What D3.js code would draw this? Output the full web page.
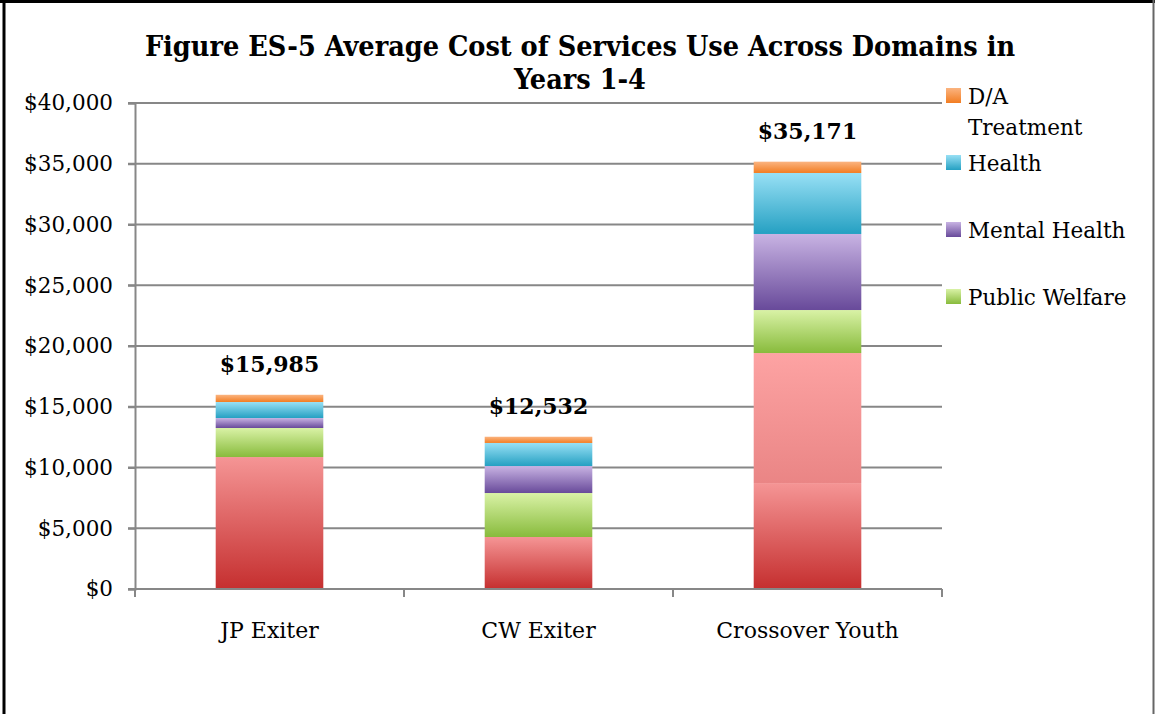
<!DOCTYPE html>
<html>
<head>
<meta charset="utf-8">
<script src="https://cdn.jsdelivr.net/npm/d3@7"></script>
<style>
  html, body { margin: 0; padding: 0; background: #fff; }
  svg { display: block; }
  text { font-family: "DejaVu Serif", serif; fill: #000; }
</style>
</head>
<body>
<svg id="chart" width="1155" height="714"></svg>
<script>
// ---- data ----
const categories = ["JP Exiter", "CW Exiter", "Crossover Youth"];
const seriesNames = ["Justice A", "Justice B", "Public Welfare", "Mental Health", "Health", "D/A Treatment"];
const justiceA = [10860, 4280, 8720];
const justiceB = [0, 0, 10700];
const publicWelfare = [2390, 3620, 3540];
const mentalHealth = [820, 2220, 6260];
const health = [1320, 1900, 5020];
const daTreatment = [595, 512, 931];
const totals = [15985, 12532, 35171];
const yTicks = [0, 5000, 10000, 15000, 20000, 25000, 30000, 35000, 40000];
const legendItems = ["D/A Treatment", "Health", "Mental Health", "Public Welfare"];
const titleLines = ["Figure ES-5 Average Cost of Services Use Across Domains in", "Years 1-4"];

(function () {
const seriesValues = [justiceA, justiceB, publicWelfare, mentalHealth, health, daTreatment];
const gradients = {
  "Justice A": ["#f59595", "#c52f2f"],
  "Justice B": ["#fda3a3", "#ea8585"],
  "Public Welfare": ["#d9f2a6", "#88bb3c"],
  "Mental Health": ["#c8b3e3", "#684a9a"],
  "Health": ["#98e0f5", "#25a0c2"],
  "D/A Treatment": ["#fbb480", "#f27d22"]
};

const svg = d3.select("#chart");
const W = 1155, H = 714;

// frame
svg.append("rect").attr("x", 0).attr("y", 0).attr("width", W).attr("height", H).attr("fill", "#fff");
svg.append("line").attr("x1", 0).attr("x2", W).attr("y1", 1.5).attr("y2", 1.5).attr("stroke", "#000").attr("stroke-width", 3);
svg.append("line").attr("x1", 4).attr("x2", 4).attr("y1", 0).attr("y2", H).attr("stroke", "#000").attr("stroke-width", 3);
svg.append("line").attr("x1", 1153.5).attr("x2", 1153.5).attr("y1", 0).attr("y2", H).attr("stroke", "#666").attr("stroke-width", 2);

const defs = svg.append("defs");
Object.entries(gradients).forEach(([name, [c1, c2]], i) => {
  const g = defs.append("linearGradient").attr("id", "grad" + i)
    .attr("x1", 0).attr("y1", 0).attr("x2", 0).attr("y2", 1);
  g.append("stop").attr("offset", "0%").attr("stop-color", c1);
  g.append("stop").attr("offset", "100%").attr("stop-color", c2);
});
const gradId = name => "url(#grad" + Object.keys(gradients).indexOf(name) + ")";

const pLeft = 135, pRight = 942, pTop = 103, pBottom = 589;
const x = d3.scaleBand().domain(categories).range([pLeft, pRight]).paddingInner(0.6).paddingOuter(0.3);
const y = d3.scaleLinear().domain([0, 40000]).range([pBottom, pTop]);

// gridlines
svg.append("g").selectAll("line").data(yTicks.filter(d => d > 0)).join("line")
  .attr("x1", pLeft - 7).attr("x2", pRight)
  .attr("y1", d => y(d)).attr("y2", d => y(d))
  .attr("stroke", "#878787").attr("stroke-width", 2);

// y axis
const yAxis = d3.axisLeft(y).tickValues(yTicks).tickSize(7).tickPadding(15)
  .tickFormat(d => "$" + d3.format(",")(d));
const gy = svg.append("g").attr("transform", `translate(${pLeft},0)`).call(yAxis);
gy.select(".domain").attr("stroke", "#878787").attr("stroke-width", 2);
gy.selectAll(".tick line").attr("stroke", "#878787").attr("stroke-width", 2);
gy.selectAll(".tick text").attr("font-size", 21.5).attr("font-family", "DejaVu Serif").attr("fill", "#000");

// stacked data
const table = categories.map((c, i) => {
  const o = { category: c };
  seriesNames.forEach((s, j) => o[s] = seriesValues[j][i]);
  return o;
});
const stack = d3.stack().keys(seriesNames)(table);

svg.append("g").selectAll("g").data(stack).join("g")
  .attr("fill", d => gradId(d.key))
  .selectAll("rect").data(d => d.filter(p => p[1] - p[0] > 0)).join("rect")
  .attr("x", d => x(d.data.category))
  .attr("width", x.bandwidth())
  .attr("y", d => y(d[1]))
  .attr("height", d => y(d[0]) - y(d[1]));

// x axis
const xBounds = d3.scaleLinear().domain([0, categories.length]).range([pLeft, pRight]);
const gx = svg.append("g");
gx.append("line").attr("x1", pLeft - 7).attr("x2", pRight).attr("y1", pBottom).attr("y2", pBottom)
  .attr("stroke", "#878787").attr("stroke-width", 2);
gx.selectAll("line.t").data(d3.range(categories.length + 1)).join("line").attr("class", "t")
  .attr("x1", d => xBounds(d)).attr("x2", d => xBounds(d))
  .attr("y1", pBottom).attr("y2", pBottom + 8)
  .attr("stroke", "#878787").attr("stroke-width", 2);
gx.selectAll("text").data(categories).join("text")
  .attr("x", d => x(d) + x.bandwidth() / 2).attr("y", 638)
  .attr("text-anchor", "middle").attr("font-size", 22).text(d => d);

// totals labels
svg.append("g").selectAll("text").data(categories).join("text")
  .attr("x", d => x(d) + x.bandwidth() / 2)
  .attr("y", (d, i) => y(totals[i]) - 23)
  .attr("text-anchor", "middle").attr("font-weight", "bold").attr("font-size", 22)
  .text((d, i) => "$" + d3.format(",")(totals[i]));

// title
svg.append("g").selectAll("text").data(titleLines).join("text")
  .attr("x", 580).attr("y", (d, i) => 56 + i * 33)
  .attr("text-anchor", "middle").attr("font-weight", "bold").attr("font-size", 28.5)
  .style("font-stretch", "condensed")
  .text(d => d);

// legend
const legendY = d3.scalePoint().domain(legendItems).range([95.5, 296.5]);
const lg = svg.append("g").selectAll("g").data(legendItems).join("g")
  .attr("transform", d => `translate(946,${legendY(d)})`);
lg.append("rect").attr("x", 0).attr("y", -7.5).attr("width", 15).attr("height", 15)
  .attr("fill", d => gradId(d));
lg.append("text").attr("x", 22).attr("y", 8).attr("font-size", 21.5)
  .each(function (d) {
    const t = d3.select(this);
    if (d === "D/A Treatment") {
      t.append("tspan").attr("x", 22).attr("dy", 0).text("D/A");
      t.append("tspan").attr("x", 22).attr("dy", 31).text("Treatment");
    } else {
      t.text(d);
    }
  });
})();
</script>
</body>
</html>
